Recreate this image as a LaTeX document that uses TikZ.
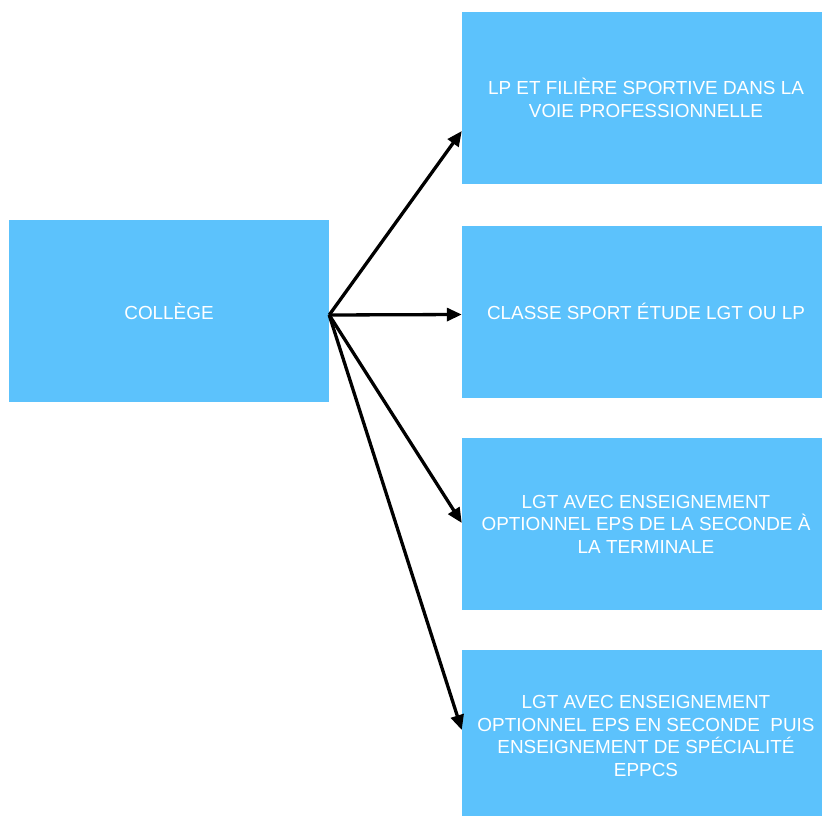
\documentclass[tikz,border=0pt]{standalone}
\usepackage{fontspec}
\setmainfont{Liberation Sans}
\usetikzlibrary{arrows.meta}
\definecolor{boxblue}{RGB}{92,194,252}
\begin{document}
\begin{tikzpicture}[x=1pt,y=-1pt,
  box/.style={rectangle, fill=boxblue, draw=none, inner sep=0pt, text=white,
    align=center, font=\fontsize{18.9}{22.5}\selectfont},
  leftbox/.style={box, minimum width=320pt, minimum height=182pt},
  rightbox/.style={box, minimum width=368pt, minimum height=172pt},
  arr/.style={draw=black, line width=3.3pt, -{Triangle[length=15pt,width=13pt]}}]
\useasboundingbox (0,0) rectangle (822,816);
\clip (0,0) rectangle (822,816);
\node[leftbox] (col) at (169,311) {COLLÈGE};
\node[rightbox] (b1) at (646,98) {LP ET FILIÈRE SPORTIVE DANS LA\\VOIE PROFESSIONNELLE};
\node[rightbox] (b2) at (646,311.5) {CLASSE SPORT ÉTUDE LGT OU LP};
\node[rightbox] (b3) at (646,524) {LGT AVEC ENSEIGNEMENT\\OPTIONNEL EPS DE LA SECONDE À\\LA TERMINALE};
\node[rightbox] (b4) at (646,736) {LGT AVEC ENSEIGNEMENT\\OPTIONNEL EPS EN SECONDE\ \ PUIS\\ENSEIGNEMENT DE SPÉCIALITÉ\\EPPCS};
\coordinate (src) at ([yshift=-4pt]col.east);
\draw[arr] (src) -- ([yshift=-33pt]b1.west);
\draw[arr] (src) -- ([yshift=-3pt]b2.west);
\draw[arr] (src) -- ([yshift=1pt]b3.west);
\draw[arr] (src) -- ([yshift=6pt]b4.west);
\end{tikzpicture}
\end{document}
